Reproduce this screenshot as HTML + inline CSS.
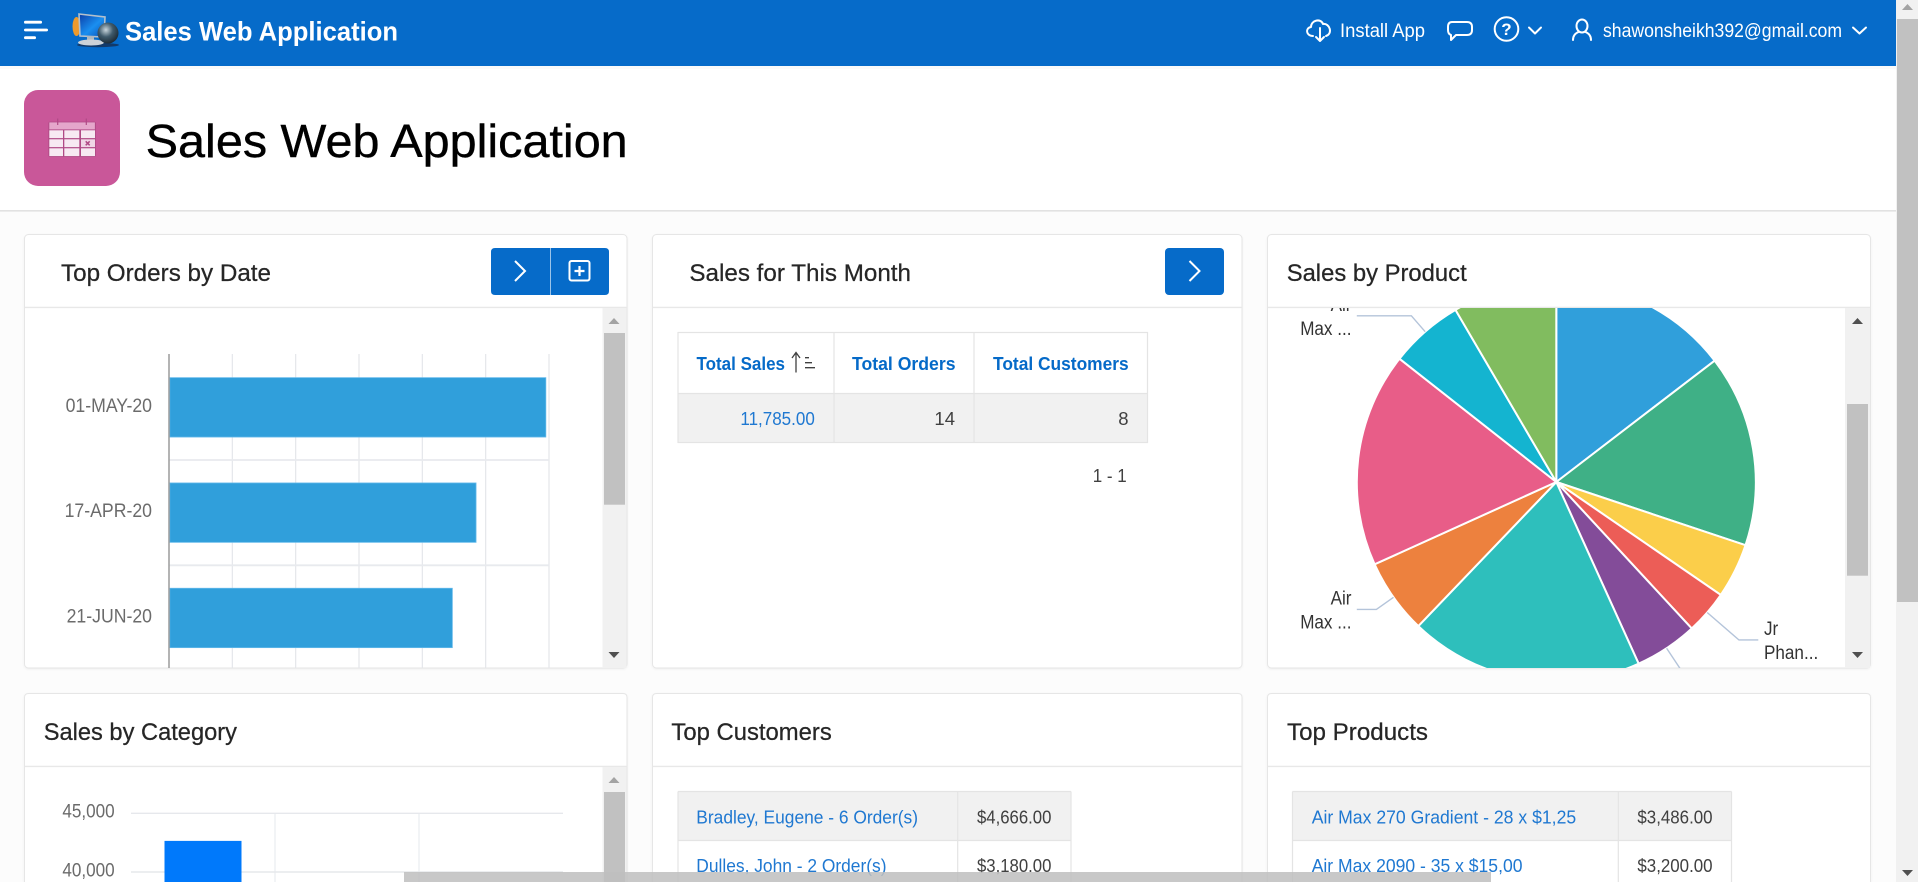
<!DOCTYPE html>
<html lang="en">
<head>
<meta charset="utf-8">
<title>Sales Web Application</title>
<style>
html,body{margin:0;padding:0;width:1918px;height:882px;overflow:hidden;background:#fcfcfc}
svg{display:block}
text{font-family:"Liberation Sans",Arial,sans-serif}
.card{fill:#fff;stroke:#e6e6e6;stroke-width:1;filter:drop-shadow(0 1px 1px rgba(0,0,0,.05))}
.divider{stroke:#e8e8e8;stroke-width:1.4}
.card-title{font-size:24px;fill:#262626;stroke:#262626;stroke-width:.25px}
.cell-line{stroke:#e4e4e4;stroke-width:1.2;fill:none}
.th{font-size:18.5px;font-weight:bold;fill:#056ac8}
.td{font-size:18.5px;fill:#404040}
.link{font-size:18.5px;fill:#1f78d1}
.hdr-text{font-size:19px;fill:#fff}
.icon{fill:none;stroke:#fff;stroke-width:2;stroke-linecap:round;stroke-linejoin:round}
.track{fill:#f1f1f1}
.thumb{fill:#c1c1c1}
</style>
</head>
<body>
<svg id="page" width="1918" height="882" viewBox="0 0 1918 882" xmlns="http://www.w3.org/2000/svg">
<defs>
<clipPath id="clip-orders"><rect x="25" y="308" width="577" height="360"/></clipPath>
<clipPath id="clip-pie"><rect x="1268" y="308" width="577" height="360"/></clipPath>
<linearGradient id="screen-gradient" x1="0" y1="0" x2="1" y2="1"><stop offset="0" stop-color="#0b3da6"/><stop offset=".55" stop-color="#1a8ff0"/><stop offset="1" stop-color="#0a4fb5"/></linearGradient>
<radialGradient id="globe-gradient" cx=".4" cy=".35" r=".75"><stop offset="0" stop-color="#c9d6dd"/><stop offset=".45" stop-color="#3f5a6b"/><stop offset="1" stop-color="#141f28"/></radialGradient>
</defs>

<rect x="0" y="66" width="1896" height="144" fill="#ffffff"/>
<line x1="0" y1="210.8" x2="1896" y2="210.8" stroke="#e2e2e2" stroke-width="1.6"/>

<!-- App header -->
<g>
<rect x="0" y="66" width="1896" height="3" fill="#000" opacity=".02"/>
<rect x="0" y="0" width="1896" height="66" fill="#066bc9"/>
<g fill="#fff">
<rect x="24" y="20.8" width="18" height="2.8" rx="1.4"/>
<rect x="24" y="28.6" width="24" height="2.8" rx="1.4"/>
<rect x="24" y="36.3" width="12" height="2.8" rx="1.4"/>
</g>
<g>
<ellipse cx="98" cy="45" rx="21" ry="2.2" fill="#123a6a"/>
<ellipse cx="76.5" cy="26.5" rx="4" ry="9.5" fill="#ee9a2b"/>
<path d="M79 14 L105 17 L104 37 L80 36 Z" fill="url(#screen-gradient)" stroke="#b4c0cc" stroke-width="1.6"/>
<rect x="87" y="36" width="7" height="5" fill="#aeb8c0"/>
<ellipse cx="91" cy="42.5" rx="13" ry="3" fill="#ccd2d8"/>
<circle cx="108" cy="33" r="10.5" fill="url(#globe-gradient)"/>
</g>
<text x="125" y="40.7" font-size="26.5" font-weight="bold" fill="#fff" textLength="273" lengthAdjust="spacingAndGlyphs">Sales Web Application</text>

<g>
<path class="icon" d="M1313 36 C1306 36 1305 28 1311 27 C1311 20 1321 18 1323 24 C1330 23 1333 34 1326 36"/>
<path class="icon" d="M1320 28 V41 M1316 37 L1320 41 L1324 37"/>
<text class="hdr-text" x="1340" y="37" textLength="85" lengthAdjust="spacingAndGlyphs">Install App</text>
</g>
<path class="icon" d="M1452 22 H1467 Q1472 22 1472 27 V30 Q1472 35 1467 35 H1456 L1451 40 V35 Q1448 34 1448 30 V27 Q1448 22 1452 22 Z"/>
<g>
<circle class="icon" cx="1506.5" cy="29" r="11.8"/>
<text x="1506.5" y="35" font-size="17" font-weight="bold" fill="#fff" text-anchor="middle">?</text>
<path class="icon" d="M1529 27.5 L1535 33.5 L1541 27.5"/>
</g>
<g>
<ellipse class="icon" cx="1582" cy="26" rx="5.5" ry="6.5"/>
<path class="icon" d="M1573 40 C1573 35 1576 33 1578.5 32 M1591 40 C1591 35 1588 33 1585.5 32"/>
<text class="hdr-text" x="1603" y="37" textLength="239" lengthAdjust="spacingAndGlyphs">shawonsheikh392@gmail.com</text>
<path class="icon" d="M1853 27.5 L1859.5 33.5 L1866 27.5"/>
</g>
</g>

<!-- Page title -->
<g>
<rect x="24" y="90" width="96" height="96" rx="14" fill="#c95799"/>
<rect x="48.3" y="121.6" width="47.6" height="35.4" rx="2" fill="#b04a86"/>
<rect x="49.3" y="122.4" width="45.6" height="7" fill="#e5a6cb"/>
<g fill="#f7e9f2">
<rect x="49.3" y="130.3" width="13.7" height="7.8"/><rect x="64.3" y="130.3" width="15" height="7.8"/><rect x="81" y="130.3" width="14" height="7.8"/>
<rect x="49.3" y="139.3" width="13.7" height="7.8"/><rect x="64.3" y="139.3" width="15" height="7.8"/><rect x="81" y="139.3" width="14" height="7.8" fill="#f0d6e6"/>
<rect x="49.3" y="148.3" width="13.7" height="7.8"/><rect x="64.3" y="148.3" width="15" height="7.8"/><rect x="81" y="148.3" width="14" height="7.8"/>
</g>
<path d="M85.7 141.3 L89.7 145.3 M89.7 141.3 L85.7 145.3" stroke="#b04a86" stroke-width="1.5"/>
<path d="M57.7 118.5 V125 M86.3 118.5 V125" stroke="#b04a86" stroke-width="1.2"/>
</g>
<text x="145.7" y="157" font-size="46" fill="#000" stroke="#000" stroke-width=".4" textLength="482" lengthAdjust="spacingAndGlyphs">Sales Web Application</text>

<!-- Card 1 -->
<g>
<rect class="card" x="24.5" y="234.5" width="602.5" height="433.5" rx="4"/>
<line class="divider" x1="25" y1="307.4" x2="627" y2="307.4"/>
<text class="card-title" x="61" y="281" textLength="210" lengthAdjust="spacingAndGlyphs">Top Orders by Date</text>
<g>
<path d="M495 248 H550 V295 H495 Q491 295 491 291 V252 Q491 248 495 248 Z" fill="#066bc9"/>
<path d="M515 261 L525 271 L515 281" fill="none" stroke="#fff" stroke-width="2"/>
</g>
<g>
<path d="M550.6 248 H605 Q609 248 609 252 V291 Q609 295 605 295 H550.6 Z" fill="#066bc9"/>
<rect x="569.5" y="261" width="20" height="19.5" rx="2" fill="none" stroke="#fff" stroke-width="2"/>
<path d="M579.5 266 V276 M574.5 271 H584.5" stroke="#fff" stroke-width="2.2"/>
</g>
<g id="orders-chart" clip-path="url(#clip-orders)"></g>
<g>
<rect class="track" x="602.5" y="308" width="24" height="360"/>
<rect class="thumb" x="604" y="333" width="21" height="171.7"/>
<path d="M608.5 324 H619.5 L614 318 Z" fill="#a3a3a3"/>
<path d="M608.5 652 H619.5 L614 658 Z" fill="#505050"/>
</g>
</g>

<!-- Card 2 -->
<g>
<rect class="card" x="652.5" y="234.5" width="589.5" height="433.5" rx="4"/>
<line class="divider" x1="653" y1="307.4" x2="1242" y2="307.4"/>
<text class="card-title" x="689.4" y="281" textLength="221.6" lengthAdjust="spacingAndGlyphs">Sales for This Month</text>
<g>
<rect x="1165" y="248" width="59" height="47" rx="4" fill="#066bc9"/>
<path d="M1189.5 261 L1199.5 271 L1189.5 281" fill="none" stroke="#fff" stroke-width="2"/>
</g>
<g>
<rect x="678" y="393.5" width="469.5" height="49" fill="#f1f1f1"/>
<rect class="cell-line" x="678" y="332.5" width="469.5" height="110"/>
<path class="cell-line" d="M678 393.5 H1147.5 M834 332.5 V442.5 M974 332.5 V442.5"/>
<text class="th" x="696.5" y="370" textLength="88.5" lengthAdjust="spacingAndGlyphs">Total Sales</text>
<g stroke="#404040" stroke-width="1.3" fill="none">
<path d="M796 372.5 V353 M792 358 L796 352.5 L800 358"/>
<path d="M805 357.7 H809 M805 362.7 H812 M805 367.7 H815"/>
</g>
<text class="th" x="852" y="370" textLength="103.5" lengthAdjust="spacingAndGlyphs">Total Orders</text>
<text class="th" x="993" y="370" textLength="135.7" lengthAdjust="spacingAndGlyphs">Total Customers</text>
<text class="link" x="740.4" y="425" textLength="74.4" lengthAdjust="spacingAndGlyphs">11,785.00</text>
<text class="td" x="955" y="425" text-anchor="end">14</text>
<text class="td" x="1128.5" y="425" text-anchor="end">8</text>
</g>
<text class="td" x="1092.7" y="482" textLength="34" lengthAdjust="spacingAndGlyphs">1 - 1</text>
</g>

<!-- Card 3 -->
<g>
<rect class="card" x="1267.5" y="234.5" width="603" height="433.5" rx="4"/>
<line class="divider" x1="1268" y1="307.4" x2="1870" y2="307.4"/>
<text class="card-title" x="1286.7" y="281" textLength="180" lengthAdjust="spacingAndGlyphs">Sales by Product</text>
<g id="pie-chart" clip-path="url(#clip-pie)"></g>
<g>
<rect class="track" x="1845" y="308" width="25" height="360"/>
<rect class="thumb" x="1847" y="404" width="21" height="171.7"/>
<path d="M1852 324 H1863 L1857.5 318 Z" fill="#505050"/>
<path d="M1852 652 H1863 L1857.5 658 Z" fill="#505050"/>
</g>
</g>

<!-- Card 4 -->
<g>
<path class="card" d="M24.5 882 V697.5 Q24.5 693.5 28.5 693.5 H623 Q627 693.5 627 697.5 V882"/>
<line class="divider" x1="25" y1="766.4" x2="627" y2="766.4"/>
<text class="card-title" x="43.7" y="740" textLength="193.3" lengthAdjust="spacingAndGlyphs">Sales by Category</text>
<g id="category-chart"></g>
<g>
<rect class="track" x="602.5" y="767" width="24" height="115"/>
<rect class="thumb" x="604" y="792" width="21" height="90"/>
<path d="M608.5 783 H619.5 L614 777 Z" fill="#a3a3a3"/>
</g>
</g>

<!-- Card 5 -->
<g>
<path class="card" d="M652.5 882 V697.5 Q652.5 693.5 656.5 693.5 H1238 Q1242 693.5 1242 697.5 V882"/>
<line class="divider" x1="653" y1="766.4" x2="1242" y2="766.4"/>
<text class="card-title" x="671.4" y="740" textLength="160.4" lengthAdjust="spacingAndGlyphs">Top Customers</text>
<g>
<rect x="678" y="791.5" width="393" height="49" fill="#f1f1f1"/>
<path class="cell-line" d="M678 791.5 H1071 M678 840.5 H1071 M678 791.5 V882 M957.7 791.5 V882 M1071 791.5 V882"/>
<text class="link" x="696.3" y="823.3" textLength="221.7" lengthAdjust="spacingAndGlyphs">Bradley, Eugene - 6 Order(s)</text>
<text class="td" x="977" y="823.3" textLength="74.4" lengthAdjust="spacingAndGlyphs">$4,666.00</text>
<text class="link" x="696.3" y="872" textLength="190.2" lengthAdjust="spacingAndGlyphs">Dulles, John - 2 Order(s)</text>
<text class="td" x="977" y="872" textLength="74.4" lengthAdjust="spacingAndGlyphs">$3,180.00</text>
</g>
</g>

<!-- Card 6 -->
<g>
<path class="card" d="M1267.5 882 V697.5 Q1267.5 693.5 1271.5 693.5 H1866.5 Q1870.5 693.5 1870.5 697.5 V882"/>
<line class="divider" x1="1268" y1="766.4" x2="1870" y2="766.4"/>
<text class="card-title" x="1287" y="740" textLength="141" lengthAdjust="spacingAndGlyphs">Top Products</text>
<g>
<rect x="1292.5" y="791.5" width="439" height="49" fill="#f1f1f1"/>
<path class="cell-line" d="M1292.5 791.5 H1731.5 M1292.5 840.5 H1731.5 M1292.5 791.5 V882 M1618.3 791.5 V882 M1731.5 791.5 V882"/>
<text class="link" x="1311.7" y="823.3" textLength="264.5" lengthAdjust="spacingAndGlyphs">Air Max 270 Gradient - 28 x $1,25</text>
<text class="td" x="1637.4" y="823.3" textLength="75.2" lengthAdjust="spacingAndGlyphs">$3,486.00</text>
<text class="link" x="1311.7" y="872" textLength="210.8" lengthAdjust="spacingAndGlyphs">Air Max 2090 - 35 x $15,00</text>
<text class="td" x="1637.4" y="872" textLength="75.2" lengthAdjust="spacingAndGlyphs">$3,200.00</text>
</g>
</g>

<!-- Page scrollbars -->
<g>
<rect class="track" x="1896" y="0" width="22" height="882"/>
<rect class="thumb" x="1897" y="19" width="21" height="583"/>
<path d="M1902 10 H1913 L1907.5 4 Z" fill="#a3a3a3"/>
<path d="M1902 870 H1913 L1907.5 876 Z" fill="#505050"/>
</g>
<rect x="404" y="872" width="1087" height="10" fill="#bfbfbf" opacity=".86"/>
</svg>

<script>
/* Top Orders by Date */
const orderDates = ['01-MAY-20', '17-APR-20', '21-JUN-20'];
const orderValues = [2975, 2424, 2237];
const orderTicks = [0, 500, 1000, 1500, 2000, 2500, 3000];

/* Sales by Product */
const productValues = [2688, 2862, 818, 654, 940, 3486, 1119, 3200, 1099, 1553];
const productColors = ['#309fdb', '#3fb086', '#fbce4a', '#ec5d57', '#834c99', '#2ebfbc', '#ed813e', '#e85d88', '#14b4d0', '#81bc5f'];
const productLabels = [null, null, null, ['Jr', 'Phan...'], [], null, ['Air', 'Max ...'], null, ['Air', 'Max ...'], null];

/* Sales by Category */
const categoryNames = ['Category 1', 'Category 2', 'Category 3'];
const categoryValues = [42650, null, null];
const categoryTicks = [45000, 40000];

const SVGNS = 'http://www.w3.org/2000/svg';
function make(tag, parent, attrs) {
  const el = document.createElementNS(SVGNS, tag);
  for (const k in attrs) el.setAttribute(k, attrs[k]);
  parent.appendChild(el);
  return el;
}
function squeeze(el, k) {
  const n = el.getComputedTextLength();
  el.setAttribute('textLength', (n * k).toFixed(1));
  el.setAttribute('lengthAdjust', 'spacingAndGlyphs');
}

/* ---- horizontal bar chart ---- */
(function () {
  const g = document.getElementById('orders-chart');
  const x0 = 169, plotW = 380, top = 354.7, band = 105.3, barRatio = 0.564;
  const maxTick = orderTicks[orderTicks.length - 1];
  const xScale = v => x0 + v / maxTick * plotW;
  const bandY = i => top + i * band;

  orderTicks.forEach(t => {
    if (t === 0) return;
    const line = make('line', g, {x1: xScale(t), x2: xScale(t), y1: 354, y2: 668, stroke: '#e4e6ea', 'stroke-width': 1.2});
    
    
  });
  orderDates.forEach((d, i) => {
    const sep = make('line', g, {x1: x0, x2: xScale(maxTick), y1: bandY(i + 1), y2: bandY(i + 1), stroke: '#e8eaee', 'stroke-width': 1.8});
    
    

    const bar = make('rect', g, {x: x0 + 0.8, y: bandY(i) + band * (1 - barRatio) / 2, width: xScale(orderValues[i]) - x0 - 0.8, height: band * barRatio, fill: '#309fdb', stroke: '#63b9ea', 'stroke-width': 0.8});
    
    

    const label = make('text', g, {x: 152, y: bandY(i) + band / 2 + 4.5, 'text-anchor': 'end', 'font-size': 19, fill: '#6b6b6b'});
    label.textContent = d;
    
    
    squeeze(label, 0.93);
  });
  const axis = make('line', g, {x1: x0, x2: x0, y1: 354, y2: 668, stroke: '#9c9c9c', 'stroke-width': 1.5});
  
  
})();

/* ---- pie chart ---- */
(function () {
  const g = document.getElementById('pie-chart');
  const cx = 1556.3, cy = 482, r = 199.5;
  const total = productValues.reduce((a, b) => a + b, 0);
  const pt = (deg, rad) => [cx + rad * Math.sin(deg * Math.PI / 180), cy - rad * Math.cos(deg * Math.PI / 180)];
  let acc = 0;
  const leaders = [];
  productValues.forEach((v, i) => {
    const a0 = acc / total * 360;
    acc += v;
    const a1 = acc / total * 360;
    const p0 = pt(a0, r), p1 = pt(a1, r);
    const d = 'M' + cx + ' ' + cy + ' L' + p0[0] + ' ' + p0[1] + ' A' + r + ' ' + r + ' 0 ' + (a1 - a0 > 180 ? 1 : 0) + ' 1 ' + p1[0] + ' ' + p1[1] + ' Z';
    const slice = make('path', g, {d: d, fill: productColors[i], stroke: '#fff', 'stroke-width': 2});
    
    
    if (productLabels[i]) leaders.push({mid: (a0 + a1) / 2, lines: productLabels[i]});
  });
  leaders.forEach(l => {
    const right = l.mid < 180;
    const start = pt(l.mid, r);
    const elbow = pt(l.mid, r + (right ? 42 : 21));
    const endX = right ? cx + 202 : cx - 199.5;
    const path = make('path', g, {d: 'M' + start[0] + ' ' + start[1] + ' L' + elbow[0] + ' ' + elbow[1] + ' H' + endX, fill: 'none', stroke: '#b4c4da', 'stroke-width': 1.4});
    
    
    l.lines.forEach((line, k) => {
      const t = make('text', g, {x: right ? cx + 207.7 : cx - 204.8, y: elbow[1] - 5 + k * 24, 'text-anchor': right ? 'start' : 'end', 'font-size': 19, fill: '#333'});
      t.textContent = line;
      
      
      squeeze(t, 0.9);
    });
  });
})();

/* ---- vertical bar chart ---- */
(function () {
  const g = document.getElementById('category-chart');
  const plotX = 131, bandW = 144, refV = 45000, refY = 813.3, pxPerUnit = 58.7 / 5000;
  const yScale = v => refY + (refV - v) * pxPerUnit;
  const bandX = i => plotX + i * bandW;

  categoryTicks.forEach(t => {
    const line = make('line', g, {x1: plotX, x2: bandX(categoryNames.length), y1: yScale(t), y2: yScale(t), stroke: '#e6e8ec', 'stroke-width': 1.4});
    
    
    const label = make('text', g, {x: 114.7, y: yScale(t) + 4.4, 'text-anchor': 'end', 'font-size': 19, fill: '#6b6b6b'});
    label.textContent = t.toLocaleString('en-US');
    
    
    squeeze(label, 0.9);
  });
  categoryNames.forEach((c, i) => {
    if (i > 0) {
      const v = make('line', g, {x1: bandX(i), x2: bandX(i), y1: yScale(categoryTicks[0]), y2: 882, stroke: '#e6e8ec', 'stroke-width': 1});
      
      
    }
    if (categoryValues[i] === null) return;
    const barW = 77;
    const bar = make('rect', g, {x: bandX(i) + (bandW - barW) / 2, y: yScale(categoryValues[i]), width: barW, height: Math.max(0, 882 - yScale(categoryValues[i])), fill: '#0079fb'});
    
    
  });
})();
</script>
</body>
</html>
